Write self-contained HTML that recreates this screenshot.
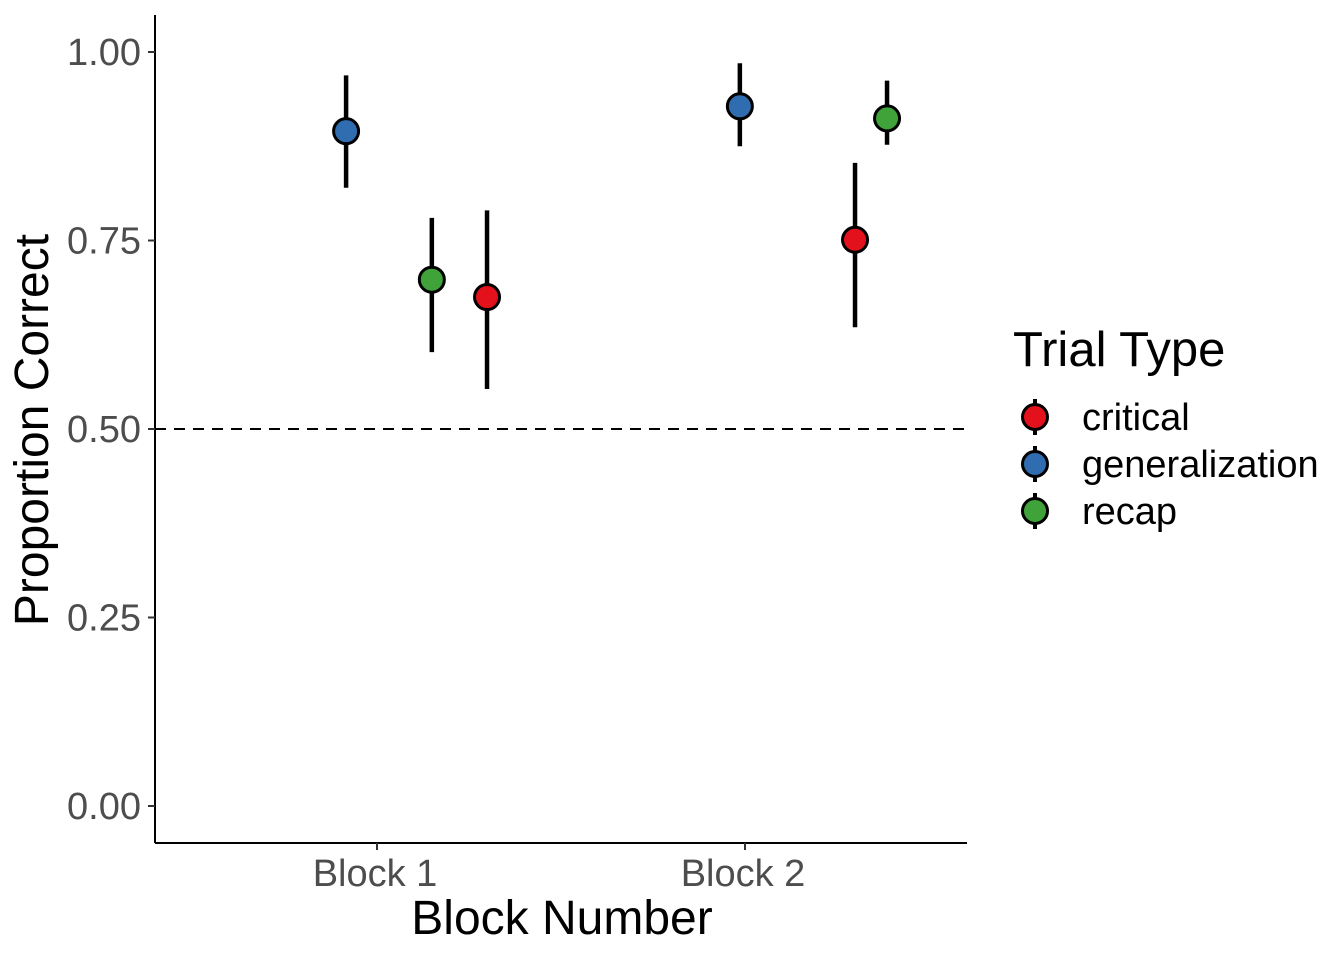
<!DOCTYPE html>
<html><head><meta charset="utf-8"><style>
html,body{margin:0;padding:0;background:#fff}
svg{display:block;font-family:"Liberation Sans",Arial,sans-serif}
</style></head><body>
<svg id="chart" width="1344" height="960"></svg>
<script>
const categories = ["Block 1","Block 2"];
const seriesNames = ["critical","generalization","recap"];
const pointBlock = [0,0,0,1,1,1];
const pointSeries = ["generalization","recap","critical","generalization","critical","recap"];
const pointJitter = [-0.084,0.149,0.299,-0.014,0.299,0.386];
const pointMean = [0.895,0.698,0.675,0.928,0.751,0.912];
const pointLow = [0.820,0.602,0.553,0.875,0.635,0.877];
const pointHigh = [0.969,0.780,0.790,0.985,0.853,0.962];
const yTicks = [0,0.25,0.5,0.75,1];
const yTickLabels = ["0.00","0.25","0.50","0.75","1.00"];
const colors = {critical:"#E3111B",generalization:"#2F6DB0",recap:"#3FA33A"};

const NS="http://www.w3.org/2000/svg";
const svg=document.getElementById('chart');
function mk(tag,attrs,parent){const e=document.createElementNS(NS,tag);for(const k in attrs)e.setAttribute(k,attrs[k]);(parent||svg).appendChild(e);return e;}
const yS=v=>806-754*v;
const xS=c=>377+368*c;

let a=mk('line',{x1:155,y1:15,x2:155,y2:843,stroke:'#000','stroke-width':2});


a=mk('line',{x1:155,y1:843,x2:967,y2:843,stroke:'#000','stroke-width':2});



yTicks.forEach((v,i)=>{
  const t=mk('line',{x1:148,y1:yS(v),x2:155,y2:yS(v),stroke:'#333','stroke-width':2});
  
  
  const l=mk('text',{x:141,y:yS(v)+13,'text-anchor':'end','font-size':38,fill:'#4d4d4d'});
  l.textContent=yTickLabels[i];
  
  
});
categories.forEach((c,i)=>{
  const t=mk('line',{x1:xS(i),y1:843,x2:xS(i),y2:850,stroke:'#333','stroke-width':2});
  
  
  const l=mk('text',{x:xS(i)-2,y:886,'text-anchor':'middle','font-size':38,fill:'#4d4d4d'});
  l.textContent=c;
  
  
});
a=mk('line',{x1:155,y1:yS(0.5),x2:967,y2:yS(0.5),stroke:'#000','stroke-width':2,'stroke-dasharray':'11,8'});



pointMean.forEach((m,i)=>{
  const x=xS(pointBlock[i]+pointJitter[i]);
  const e=mk('line',{x1:x,y1:yS(pointHigh[i]),x2:x,y2:yS(pointLow[i]),stroke:'#000','stroke-width':4.5});
  
  
  const p=mk('circle',{cx:x,cy:yS(m),r:12.5,fill:colors[pointSeries[i]],stroke:'#000','stroke-width':3});
  
  
});

a=mk('text',{x:562,y:934,'text-anchor':'middle','font-size':48,fill:'#000'});
a.textContent='Block Number';


a=mk('text',{x:0,y:0,'text-anchor':'middle','font-size':48,fill:'#000',transform:'translate(48,430) rotate(-90)'});
a.textContent='Proportion Correct';



a=mk('text',{x:1013,y:366,'font-size':49,fill:'#000'});
a.textContent='Trial Type';


seriesNames.forEach((s,i)=>{
  const y=417+47*i;
  const g=mk('g',{});
  
  
  mk('line',{x1:1035,y1:y-18,x2:1035,y2:y+18,stroke:'#000','stroke-width':4},g);
  mk('circle',{cx:1035,cy:y,r:12.5,fill:colors[s],stroke:'#000','stroke-width':3},g);
  const t=mk('text',{x:1082,y:y+13,'font-size':38,fill:'#000'},g);
  t.textContent=s;
});
</script>
</body></html>
